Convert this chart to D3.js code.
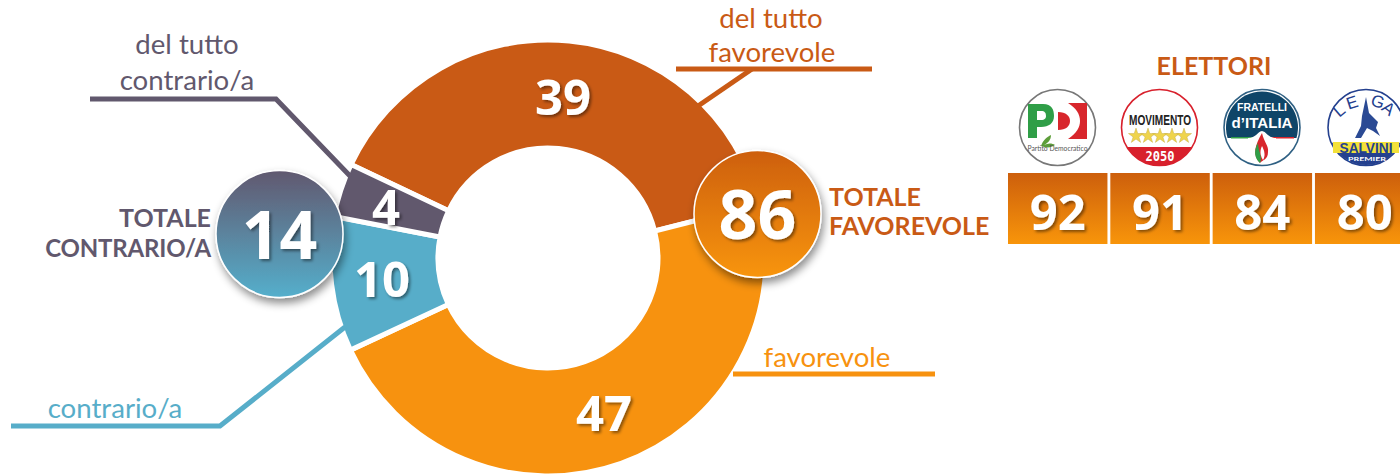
<!DOCTYPE html>
<html><head><meta charset="utf-8">
<script src="https://cdn.jsdelivr.net/npm/d3@7/dist/d3.min.js"></script>
<style>html,body{margin:0;padding:0;background:#fff;overflow:hidden}text{font-family:Lato,"Open Sans",sans-serif}</style>
</head><body><svg id="c" width="1400" height="474"></svg>
<script>
const sliceNames=["del tutto favorevole","favorevole","contrario/a","del tutto contrario/a"];
const sliceValues=[39,47,10,4];
const sliceColors=["#c95a15","#f7920f","#57adc9","#61586d"];
const partyNames=["PD","M5S","FdI","Lega"];
const partyValues=[92,91,84,80];
const totals=[{label:["TOTALE","CONTRARIO/A"],value:14},{label:["TOTALE","FAVOREVOLE"],value:86}];
const W=1400,H=474;
const NUM="'Open Sans',sans-serif";
const svg=d3.select("#c");
const defs=svg.append("defs");
function grad(id,a,b){const g=defs.append("linearGradient").attr("id",id).attr("x1",0).attr("x2",0).attr("y1",0).attr("y2",1);
 g.append("stop").attr("offset",0).attr("stop-color",a);g.append("stop").attr("offset",1).attr("stop-color",b);}
grad("gO","#cd5f0c","#f8950a");grad("gB","#61586f","#55afcc");
const f=defs.append("filter").attr("id","ts").attr("x","-30%").attr("y","-30%").attr("width","170%").attr("height","170%");
f.append("feDropShadow").attr("dx",2).attr("dy",2).attr("stdDeviation",1.6).attr("flood-color","#000").attr("flood-opacity",.45);
const f2=defs.append("filter").attr("id","cs").attr("x","-30%").attr("y","-30%").attr("width","170%").attr("height","170%");
f2.append("feDropShadow").attr("dx",2).attr("dy",5).attr("stdDeviation",4).attr("flood-color","#000").attr("flood-opacity",.45);

const cx=548,cy=258,R=218,r=110;
const deg=Math.PI/180;
const pie=d3.pie().sort(null).startAngle(-64.6*deg).endAngle(295.4*deg)(sliceValues);
const arc=d3.arc().innerRadius(r).outerRadius(R);
const line=d3.line();
const dg=svg.append("g").attr("transform",`translate(${cx},${cy})`);
dg.selectAll("path").data(pie).join("path").attr("d",arc).attr("fill",(d,i)=>sliceColors[i]).attr("stroke","#fff").attr("stroke-width",5);

const leaders=[
 {c:sliceColors[0],p:[[676,69],[872,69]],q:[[698,106],[752,69]]},
 {c:sliceColors[1],p:[[733,374],[935,374]]},
 {c:sliceColors[2],p:[[11,426],[220,426],[345,327]]},
 {c:sliceColors[3],p:[[90,99],[276,99],[351,177]]}];
const lg=svg.append("g");
leaders.forEach(l=>{lg.append("path").attr("d",line(l.p)).attr("fill","none").attr("stroke",l.c).attr("stroke-width",5);
 if(l.q)lg.append("path").attr("d",line(l.q)).attr("fill","none").attr("stroke",l.c).attr("stroke-width",5);});

const labelPos=[[563,97],[604,413],[382,279],[386,207]];
svg.selectAll("text.v").data(sliceValues).join("text").attr("class","v")
 .attr("x",(d,i)=>labelPos[i][0]).attr("y",(d,i)=>labelPos[i][1]).attr("dy","0.36em")
 .attr("text-anchor","middle").attr("font-size",49).attr("font-weight",700).attr("fill","#fff").attr("filter","url(#ts)").style("font-family",NUM).text(d=>d);

function txt(x,y,s,size,fill,anchor,weight){return svg.append("text").attr("x",x).attr("y",y).attr("font-size",size).attr("fill",fill).attr("text-anchor",anchor||"middle").attr("font-weight",weight||400).text(s);}
txt(771,28,"del tutto",27.6,sliceColors[0]);
txt(772,62,"favorevole",27.6,sliceColors[0]);
txt(827,367,"favorevole",27.6,sliceColors[1]);
txt(115,418,"contrario/a",27.6,sliceColors[2]);
txt(187,54,"del tutto",27.6,sliceColors[3]);
txt(187,90,"contrario/a",27.6,sliceColors[3]);

const circles=[{x:279.5,y:234,fill:"url(#gB)",fs:66},{x:757.5,y:214,fill:"url(#gO)",fs:68}];
circles.forEach((c,i)=>{
 svg.append("circle").attr("cx",c.x).attr("cy",c.y).attr("r",63.5).attr("fill",c.fill).attr("stroke","#fff").attr("stroke-width",1.5).attr("filter","url(#cs)");
 svg.append("text").attr("x",c.x).attr("y",c.y+1).attr("dy","0.36em").attr("text-anchor","middle").attr("font-size",c.fs).attr("font-weight",700).attr("fill","#fff").attr("filter","url(#ts)").style("font-family",NUM).text(totals[i].value);
});
txt(211,227,totals[0].label[0],25,sliceColors[3],"end",700);
txt(211,257,totals[0].label[1],24,sliceColors[3],"end",700).attr("letter-spacing",-0.2);
txt(829,206,totals[1].label[0],25,sliceColors[0],"start",700);
txt(829,235,totals[1].label[1],25,sliceColors[0],"start",700);
txt(1214,75,"ELETTORI",25,sliceColors[0],"middle",700);

const x=d3.scaleBand().domain(partyNames).range([1008,1414.4]).paddingInner(0.028).paddingOuter(0);
const bg=svg.append("g");
partyNames.forEach((p,i)=>{
 const X=x(p),w=x.bandwidth();
 bg.append("rect").attr("x",X).attr("y",173).attr("width",w).attr("height",71).attr("fill","url(#gO)");
 bg.append("text").attr("x",X+w/2).attr("y",212).attr("dy","0.36em").attr("text-anchor","middle").attr("font-size",49).attr("font-weight",700).attr("fill","#fff").attr("filter","url(#ts)").style("font-family",NUM).text(partyValues[i]);
});

// logos
const logoX=[1057.5,1159.5,1262,1366],logoY=127.5,lr=39;
const lgs=svg.append("g");
function base(i,st){return lgs.append("circle").attr("cx",logoX[i]).attr("cy",logoY).attr("r",lr-1).attr("fill","#fff").attr("stroke",st).attr("stroke-width",1.6);}
function lt(x0,y0,s,size,fill,w,fam,len){const t=lgs.append("text").attr("x",x0).attr("y",y0).attr("font-size",size).attr("fill",fill).attr("font-weight",w||700).attr("text-anchor","middle").style("font-family",fam||"Lato").text(s);
 if(len)t.attr("textLength",len).attr("lengthAdjust","spacingAndGlyphs");return t;}
function seg(i,rad,a,b,fill){const p=d3.path();p.arc(logoX[i],logoY,rad,a*deg,b*deg);p.closePath();return lgs.append("path").attr("d",p.toString()).attr("fill",fill);}
// PD
base(0,"#777");
lgs.append("path").attr("fill","#d8262c").attr("d","M1068 103 H1087 V139 H1068 C1077 133 1080 127 1080 121 C1080 114 1076 108 1068 103Z");
lgs.append("path").attr("fill","#d8262c").attr("d","M1058 112 C1066 112 1070 116 1070 121 C1070 126 1066 130 1058 130Z");
lgs.append("path").attr("fill-rule","evenodd").attr("fill","#2f9e47")
 .attr("d","M1028 104 H1043 C1052 104 1054 110 1054 116 C1054 123 1049 127 1041 127 H1037 V138 H1028Z M1037 111 V120 H1041 C1045 120 1046 118 1046 116 C1046 113 1045 111 1041 111Z");
lgs.append("path").attr("fill","#5d9e3a").attr("d","M1041 146 C1043 140 1047 137 1051 135 C1051 140 1048 143 1044 145 C1048 143 1052 143 1055 145 C1051 148 1046 148 1041 146Z");
lt(1057.5,151,"Partito Democratico",7.5,"#555",400,"Lato",60);
// M5S
base(1,"#d8202c");
seg(1,lr-1,31,149,"#d8202c");
lt(1160,125,"MOVIMENTO",15,"#222",900,"'Liberation Sans'",62);
const starX=[1136,1148,1160,1172,1184];
lgs.selectAll("path.star").data(starX).join("path").attr("class","star").attr("d",d3.symbol(d3.symbolStar,70)).attr("transform",d=>`translate(${d},136)`).attr("fill","#efd44c").attr("stroke","#c9b04a").attr("stroke-width",.5);
lt(1160,161,"2050",14,"#fff",700,"'DejaVu Sans Mono'",29);
// FdI
lgs.append("circle").attr("cx",logoX[2]).attr("cy",logoY).attr("r",lr-1).attr("fill","#fff").attr("stroke","#2f6083").attr("stroke-width",1.6);
seg(2,lr-3,163,377,"#0f4568");
lgs.append("rect").attr("x",1231).attr("y",137).attr("width",28).attr("height",1.5).attr("fill","#2f9e47");
lgs.append("rect").attr("x",1266).attr("y",137).attr("width",28).attr("height",1.5).attr("fill","#d8262c");
lgs.append("path").attr("d","M1248 138 C1256 138 1257 132 1262 131 C1267 132 1268 138 1276 138 L1276 142 H1248Z").attr("fill","#fff");
lt(1262,110.5,"FRATELLI",11,"#fff",700,"'Liberation Sans'",50);
lt(1262,128,"d’ITALIA",15.5,"#fff",700,"'Liberation Sans'",61);
lgs.append("path").attr("d","M1262 133 C1255 145 1252 155 1260 163 C1262 160 1268 160 1268 152 C1269 146 1264 142 1262 133Z").attr("fill","#d8262c");
lgs.append("path").attr("d","M1258 143 C1253 151 1255 159 1260 163 C1263 158 1258 150 1258 143Z").attr("fill","#2f9e47");
lgs.append("path").attr("d","M1262 146 C1259 152 1261 157 1263 160 C1266 155 1264 150 1262 146Z").attr("fill","#fff");
// Lega
base(3,"#24408e");
seg(3,lr-1.5,24,156,"#24408e");
lgs.append("rect").attr("x",1333).attr("y",142).attr("width",66).attr("height",11).attr("fill","#f3e13a");
lt(1366,153,"SALVINI",14,"#24408e",900,"'Liberation Sans'",53);
lt(1367,161,"PREMIER",6,"#fff",700,"Lato",38);
[["L",1343,115,-40],["E",1354,108,-18],["G",1376,107,18],["A",1385,113,38]].forEach(a=>lt(a[1],a[2],a[0],17,"#24408e",400,"'Liberation Sans'").attr("transform",`rotate(${a[3]} ${a[1]} ${a[2]})`));
lgs.append("path").attr("d","M1366 97 L1369 113 L1378 122 L1376 128 L1380 136 L1373 131 L1367 128 L1361 138 L1355 138 L1361 126 L1362 116 Z").attr("fill","#2b4a94");
</script></body></html>
